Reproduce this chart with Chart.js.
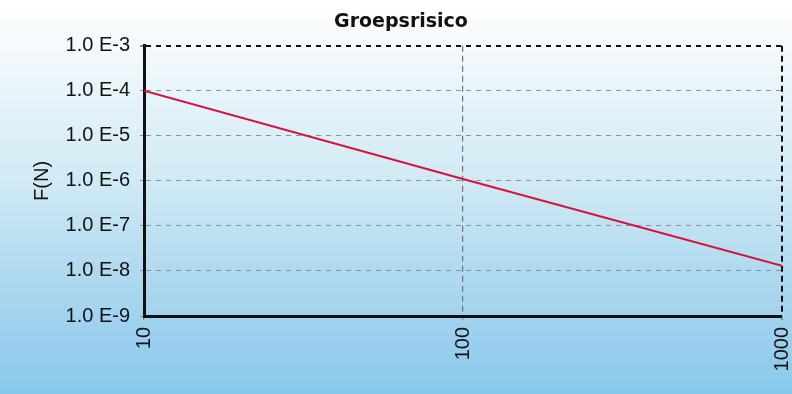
<html>
<head>
<title>Groepsrisico</title>
<style>
  body { margin: 0; }
  #wrap { width: 792px; height: 394px; }
</style>
</head>
<body>
<div id="wrap"><canvas id="fn-chart"></canvas></div>
<script src="https://cdn.jsdelivr.net/npm/chart.js@4/dist/chart.umd.min.js"></script>
<script>
    // N (aantal slachtoffers) en F(N)
    var slachtoffers = [10, 100, 1000];
    var frequentie = [1.0e-4, 1.1e-6, 1.3e-8];
    var xTicks = [10, 100, 1000];
    var yTicks = [1e-9, 1e-8, 1e-7, 1e-6, 1e-5, 1e-4, 1e-3];

    var achtergrond = {
        id: 'achtergrond',
        beforeDraw: function (chart) {
            var ctx = chart.ctx;
            var g = ctx.createLinearGradient(0, 0, 0, chart.height);
            g.addColorStop(0, '#ffffff');
            g.addColorStop(0.1, '#f5fafd');
            g.addColorStop(0.45, '#d2eaf5');
            g.addColorStop(0.7, '#afd9ef');
            g.addColorStop(1, '#88c8ec');
            ctx.save();
            ctx.fillStyle = g;
            ctx.fillRect(0, 0, chart.width, chart.height);
            ctx.restore();
        }
    };

    function exp10(v) {
        return Math.round(Math.log10(v));
    }

    var ctx = document.getElementById('fn-chart').getContext('2d');
    new Chart(ctx, {
        type: 'line',
        data: {
            datasets: [{
                label: 'F(N)',
                data: slachtoffers.map(function (n, i) { return {x: n, y: frequentie[i]}; }),
                borderColor: '#d4143c',
                borderWidth: 2,
                pointRadius: 0,
                tension: 0
            }]
        },
        plugins: [achtergrond],
        options: {
            responsive: true,
            maintainAspectRatio: false,
            animation: false,
            layout: {padding: {left: 20, right: 10, top: 0, bottom: 0}},
            plugins: {
                legend: {display: false},
                tooltip: {enabled: false},
                title: {
                    display: true,
                    text: 'Groepsrisico',
                    color: '#111',
                    font: {family: 'DejaVu Sans', size: 19, weight: 'bold'},
                    padding: {top: 11, bottom: 12}
                }
            },
            scales: {
                x: {
                    type: 'logarithmic',
                    min: 10,
                    max: 1000,
                    afterBuildTicks: function (scale) {
                        scale.ticks = xTicks.map(function (v) { return {value: v}; });
                    },
                    afterFit: function (scale) {
                        scale.height = 78;
                        scale.paddingLeft = 0;
                        scale.paddingRight = 0;
                    },
                    ticks: {
                        color: '#111',
                        font: {family: 'Liberation Sans', size: 20},
                        minRotation: 90,
                        maxRotation: 90,
                        padding: 7,
                        callback: function (v) { return String(v); }
                    },
                    grid: {
                        tickLength: 4,
                        tickColor: '#8a8a9a',
                        color: function (c) {
                            if (c.tick && c.tick.value === 1000) return '#111';
                            return '#6c7284';
                        },
                        lineWidth: function (c) {
                            return c.tick && c.tick.value === 1000 ? 2 : 1.2;
                        }
                    },
                    border: {color: '#111', width: 3, dash: [6, 4]}
                },
                y: {
                    type: 'logarithmic',
                    min: 1e-9,
                    max: 1e-3,
                    afterBuildTicks: function (scale) {
                        scale.ticks = yTicks.map(function (v) { return {value: v}; });
                    },
                    afterFit: function (scale) {
                        scale.width = 124;
                        scale.paddingTop = 0;
                        scale.paddingBottom = 0;
                    },
                    title: {
                        display: true,
                        text: 'F(N)',
                        color: '#111',
                        font: {family: 'Liberation Sans', size: 20},
                        padding: {top: 10, bottom: 0}
                    },
                    ticks: {
                        color: '#111',
                        font: {family: 'Liberation Sans', size: 20},
                        padding: 10,
                        callback: function (v) { return '1.0 E' + exp10(v); }
                    },
                    grid: {
                        tickLength: 4,
                        tickColor: '#8a8a9a',
                        color: function (c) {
                            if (c.tick && c.tick.value === 1e-3) return '#111';
                            return '#8390b0';
                        },
                        lineWidth: function (c) {
                            return c.tick && c.tick.value === 1e-3 ? 2 : 1;
                        }
                    },
                    border: {color: '#111', width: 3, dash: [5, 5]}
                }
            }
        }
    });
</script>
</body>
</html>
